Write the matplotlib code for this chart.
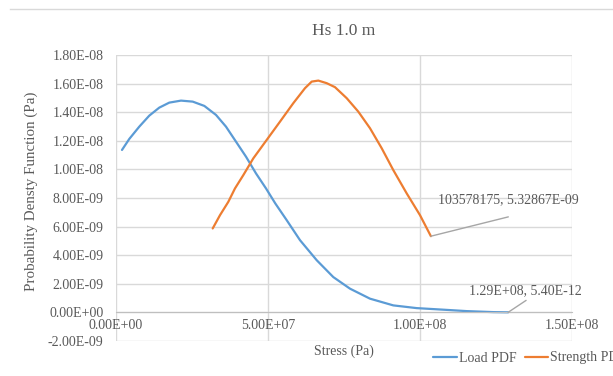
import numpy as np
import matplotlib
matplotlib.use("Agg")
from matplotlib import pyplot as plt
from matplotlib.ticker import FuncFormatter, MultipleLocator
from matplotlib.lines import Line2D

plt.rcParams["font.family"] = ["Liberation Serif", "DejaVu Serif"]

# values
load_stress = [1.97e6, 4.37e6, 7.66e6, 1.095e7, 1.424e7, 1.753e7, 2.138e7, 2.523e7, 2.905e7,
               3.289e7, 3.618e7, 3.947e7, 4.276e7, 4.605e7, 4.934e7, 5.240e7, 5.615e7,
               6.053e7, 6.602e7, 7.148e7, 7.697e7, 8.355e7, 9.122e7, 9.891e7, 1.0766e8,
               1.1536e8, 1.2411e8, 1.29e8]
load_pdf = [1.136e-8, 1.213e-8, 1.299e-8, 1.376e-8, 1.432e-8, 1.467e-8, 1.481e-8, 1.474e-8,
            1.444e-8, 1.381e-8, 1.299e-8, 1.194e-8, 1.089e-8, 9.72e-9, 8.67e-9, 7.62e-9,
            6.45e-9, 5.05e-9, 3.65e-9, 2.47e-9, 1.66e-9, 9.6e-10, 4.9e-10, 3.0e-10,
            1.9e-10, 9e-11, 2e-11, 5.40e-12]

strength_stress = [3.181e7, 3.421e7, 3.694e7, 3.914e7, 4.188e7, 4.516e7, 4.957e7, 5.395e7,
                   5.832e7, 6.217e7, 6.438e7, 6.655e7, 6.931e7, 7.204e7, 7.589e7, 7.970e7,
                   8.355e7, 8.740e7, 9.122e7, 9.563e7, 1.0e8, 103578175]
strength_pdf = [5.87e-9, 6.80e-9, 7.73e-9, 8.67e-9, 9.60e-9, 1.077e-8, 1.206e-8, 1.334e-8,
                1.463e-8, 1.568e-8, 1.614e-8, 1.621e-8, 1.603e-8, 1.575e-8, 1.498e-8,
                1.404e-8, 1.288e-8, 1.148e-8, 9.95e-9, 8.32e-9, 6.80e-9, 5.32867e-9]

text_col = "#595959"
grid_col = "#D9D9D9"

fig = plt.figure(figsize=(6.13, 3.76), dpi=100)
ax = fig.add_axes([116/613, 1 - 341/376, 456/613, 286/376])

ax.plot(load_stress, load_pdf, color="#5B9BD5", lw=1.6, label="Load PDF",
        solid_capstyle="round", solid_joinstyle="round")
ax.plot(strength_stress, strength_pdf, color="#ED7D31", lw=1.6, label="Strength PDF",
        solid_capstyle="round", solid_joinstyle="round")

ax.set_xlim(0, 1.5e8)
ax.set_ylim(-2e-9, 1.8e-8)
ax.xaxis.set_major_locator(MultipleLocator(5e7))
ax.yaxis.set_major_locator(MultipleLocator(2e-9))
fmt = FuncFormatter(lambda v, p: "{:.2E}".format(v))
ax.xaxis.set_major_formatter(fmt)
ax.yaxis.set_major_formatter(fmt)
ax.grid(True, color=grid_col, lw=1)
ax.set_axisbelow(True)
for s in ["top", "right", "left"]:
    ax.spines[s].set_visible(False)
ax.spines["bottom"].set_position(("data", 0))
ax.spines["bottom"].set_color("#BFBFBF")
ax.tick_params(axis="both", length=0, labelsize=10, labelcolor=text_col)
ax.tick_params(axis="y", pad=9)
ax.tick_params(axis="x", pad=5)

ax.set_title("Hs 1.0 m", fontsize=12.5, color=text_col, y=1.04)
ax.set_xlabel("Stress (Pa)", fontsize=10, color=text_col)
ax.xaxis.set_label_coords(0.5, -0.012)
ax.set_ylabel("Probability Densty Function (Pa)", fontsize=10.8, color=text_col)
ax.yaxis.set_label_coords(-0.171, 0.524)

# data labels with leader lines
ax.annotate("", xy=(strength_stress[-1], strength_pdf[-1]), xytext=(1.2905e8, 6.68e-9),
            arrowprops=dict(arrowstyle="-", color="#A6A6A6", lw=1, shrinkA=0, shrinkB=0))
ax.text(1.291e8, 7.85e-9, "103578175, 5.32867E-09", fontsize=10, color=text_col,
        ha="center", va="center")
ax.annotate("", xy=(load_stress[-1], load_pdf[-1]), xytext=(1.349e8, 8.4e-10),
            arrowprops=dict(arrowstyle="-", color="#A6A6A6", lw=1, shrinkA=0, shrinkB=0))
ax.text(1.347e8, 1.49e-9, "1.29E+08, 5.40E-12", fontsize=10, color=text_col,
        ha="center", va="center")

fig.legend(loc="center left", bbox_to_anchor=(433/613, 1 - 358/376), ncol=2, frameon=False,
           fontsize=10, handlelength=1.7, handletextpad=0.15, columnspacing=0.6,
           labelcolor=text_col, borderaxespad=0, borderpad=0)

fig.add_artist(Line2D([10/613, 1], [1 - 9/376, 1 - 9/376], color=grid_col, lw=1))

fig.savefig("out.png", dpi=100)
